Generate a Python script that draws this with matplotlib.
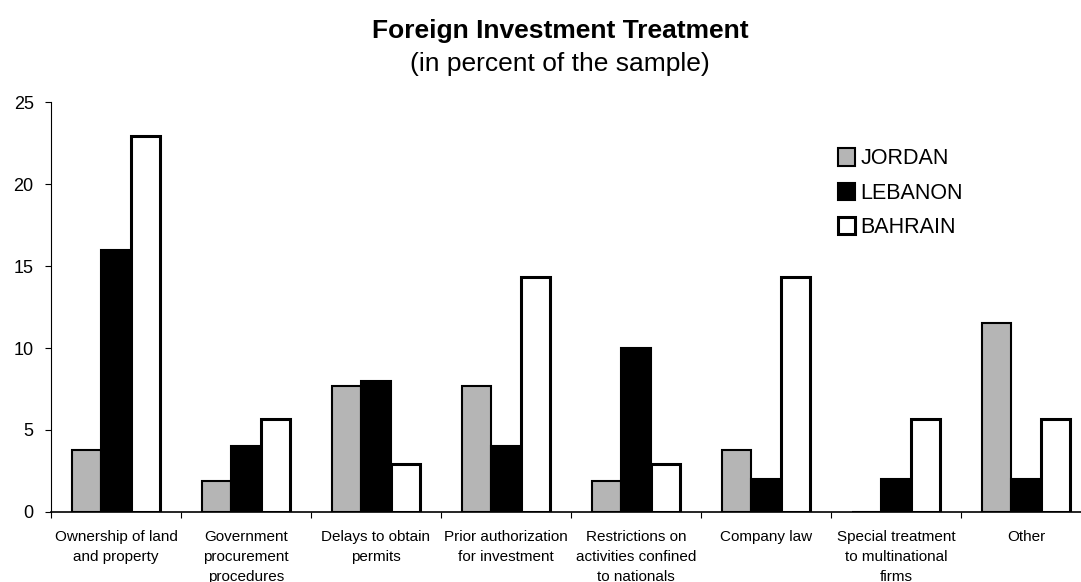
import numpy as np
import matplotlib.pyplot as plt

# categories and values (percent of sample)
categories = [
    "Ownership of land\nand property",
    "Government\nprocurement\nprocedures",
    "Delays to obtain\npermits",
    "Prior authorization\nfor investment",
    "Restrictions on\nactivities confined\nto nationals",
    "Company law",
    "Special treatment\nto multinational\nfirms",
    "Other",
]
jordan = [3.8, 1.9, 7.7, 7.7, 1.9, 3.8, 0.0, 11.5]
lebanon = [16.0, 4.0, 8.0, 4.0, 10.0, 2.0, 2.0, 2.0]
bahrain = [22.9, 5.7, 2.9, 14.3, 2.9, 14.3, 5.7, 5.7]

plt.rcParams['font.family'] = ['Liberation Sans', 'DejaVu Sans']

fig = plt.figure(figsize=(10.81, 5.82), dpi=100)
# axis runs a bit past the right edge, like the scanned original
ax = fig.add_axes([0.0472, 0.1203, 0.962, 0.7044])

x = np.arange(len(categories))
w = 0.227
ax.bar(x - w, jordan, w, color='#b5b5b5', edgecolor='black', linewidth=1.5, label='JORDAN')
ax.bar(x, lebanon, w, color='black', edgecolor='black', linewidth=1.5, label='LEBANON')
ax.bar(x + w, bahrain, w, color='white', edgecolor='black', linewidth=2.2, label='BAHRAIN')

ax.set_xlim(-0.5, len(categories) - 0.5)
ax.set_ylim(0, 25)
ax.set_yticks([0, 5, 10, 15, 20, 25])
ax.tick_params(axis='y', labelsize=13, direction='out', length=4.5, width=0.8, pad=8)

ax.set_xticks(x)
ax.set_xticklabels(categories, fontsize=11, va='top', linespacing=1.55)
ax.set_xticks(np.arange(len(categories) + 1) - 0.5, minor=True)
ax.tick_params(axis='x', which='major', length=0, pad=13)
ax.tick_params(axis='x', which='minor', length=4, width=0.8, direction='out')

ax.spines['top'].set_visible(False)
ax.spines['right'].set_visible(False)
ax.spines['left'].set_linewidth(0.8)
ax.spines['bottom'].set_linewidth(1.2)

ax.legend(loc='upper left', bbox_to_anchor=(0.775, 0.745), bbox_transform=fig.transFigure,
          frameon=False, fontsize=15.5, handlelength=0.8, handleheight=0.85,
          handletextpad=0.25, labelspacing=0.62, borderpad=0, borderaxespad=0)

fig.text(0.518, 0.947, "Foreign Investment Treatment", ha='center', va='center',
         fontsize=19, fontweight='bold')
fig.text(0.518, 0.890, "(in percent of the sample)", ha='center', va='center', fontsize=19)

fig.savefig('out.png', dpi=100)
